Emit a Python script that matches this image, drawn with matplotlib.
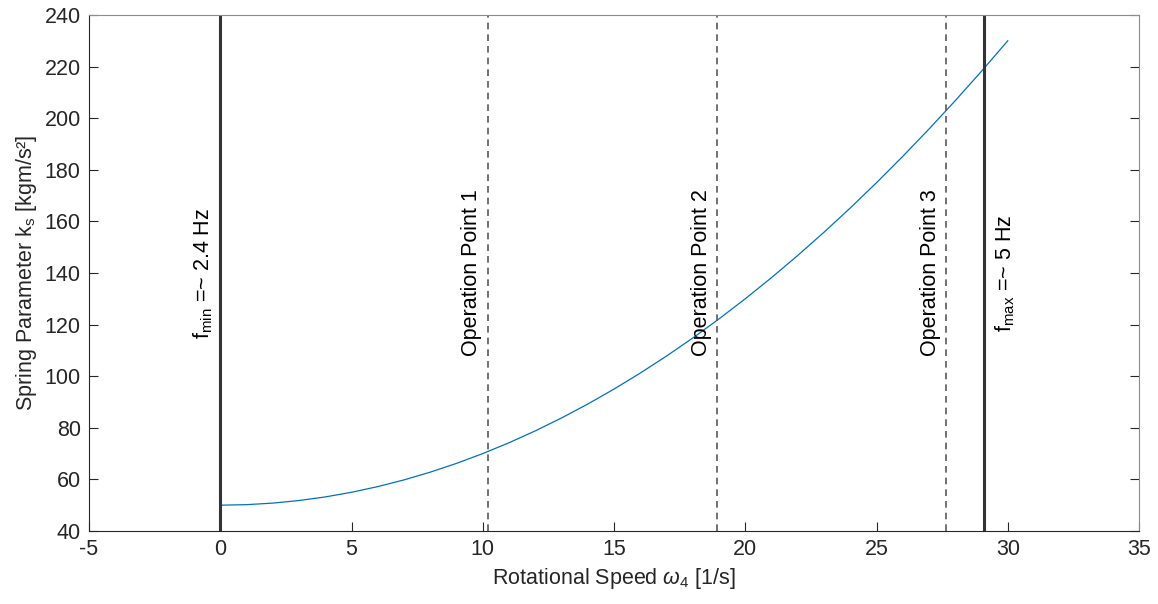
import matplotlib
matplotlib.use("Agg")
import matplotlib.pyplot as plt

plt.rcParams['font.family'] = ['Liberation Sans', 'DejaVu Sans']
plt.rcParams['mathtext.fontset'] = 'custom'
plt.rcParams['mathtext.rm'] = 'Liberation Sans'
plt.rcParams['mathtext.it'] = 'Liberation Sans:italic'
plt.rcParams['axes.unicode_minus'] = False

# curve
omega = [0, 1, 2, 3, 4, 5, 6, 7, 8, 9, 10, 11, 12, 13, 14, 15,
         16, 17, 18, 19, 20, 21, 22, 23, 24, 25, 26, 27, 28, 29, 30]
k_s = [50, 50.2, 50.8, 51.8, 53.2, 55, 57.2, 59.8, 62.8, 66.2, 70, 74.2, 78.8, 83.8, 89.2, 95,
       101.2, 107.8, 114.8, 122.2, 130, 138.2, 146.8, 155.8, 165.2, 175, 185.2, 195.8, 206.8, 218.2, 230]

# limits and operation points
f_lines = [0, 29.1]
f_labels = [r'f$_{\mathregular{min}}$ =~ 2.4 Hz', r'f$_{\mathregular{max}}$ =~ 5 Hz']
op_points = [10.2, 18.93, 27.65]
op_labels = ['Operation Point 1', 'Operation Point 2', 'Operation Point 3']

dark = (0.15, 0.15, 0.15)
fs = 15.5

fig = plt.figure(figsize=(11.58, 6.04), dpi=100)
ax = fig.add_axes([0.0769, 0.1209, 0.9067, 0.8543])

ax.plot(omega, k_s, color=(0, 0.447, 0.741), linewidth=0.9)

for x in f_lines:
    ax.axvline(x, color=(0.2, 0.2, 0.2), linewidth=2.2)
for x in op_points:
    ax.axvline(x, color=(0.35, 0.35, 0.35), linewidth=1.2, linestyle=(0, (4, 3)))

ax.annotate(f_labels[0], xy=(f_lines[0], 140), xytext=(-4, 0), textcoords='offset points',
            rotation=90, ha='right', va='center', fontsize=fs, color='black')
ax.annotate(f_labels[1], xy=(f_lines[1], 140), xytext=(7, 0), textcoords='offset points',
            rotation=90, ha='left', va='center', fontsize=fs, color='black')
for x, lab in zip(op_points, op_labels):
    ax.annotate(lab, xy=(x, 140), xytext=(-4, 0), textcoords='offset points',
                rotation=90, ha='right', va='center', fontsize=fs, color='black')

ax.set_xlim(-5, 35)
ax.set_ylim(40, 240)
ax.set_xticks(range(-5, 36, 5))
ax.set_yticks(range(40, 241, 20))
ax.tick_params(direction='in', length=6.5, width=0.8, colors=dark, labelsize=fs,
               top=False, right=True, pad=6)
for side in ['left', 'bottom']:
    ax.spines[side].set_color(dark)
for side in ['top', 'right']:
    ax.spines[side].set_color((0.55, 0.55, 0.55))

ax.set_xlabel(r'Rotational Speed $\mathit{\omega}_{\mathregular{4}}$ [1/s]', fontsize=fs, color=dark, labelpad=4)
ax.set_ylabel(r'Spring Parameter k$_{\mathregular{s}}$ [kgm/s²]', fontsize=fs, color=dark, labelpad=4)

fig.savefig("out.png", dpi=100)
